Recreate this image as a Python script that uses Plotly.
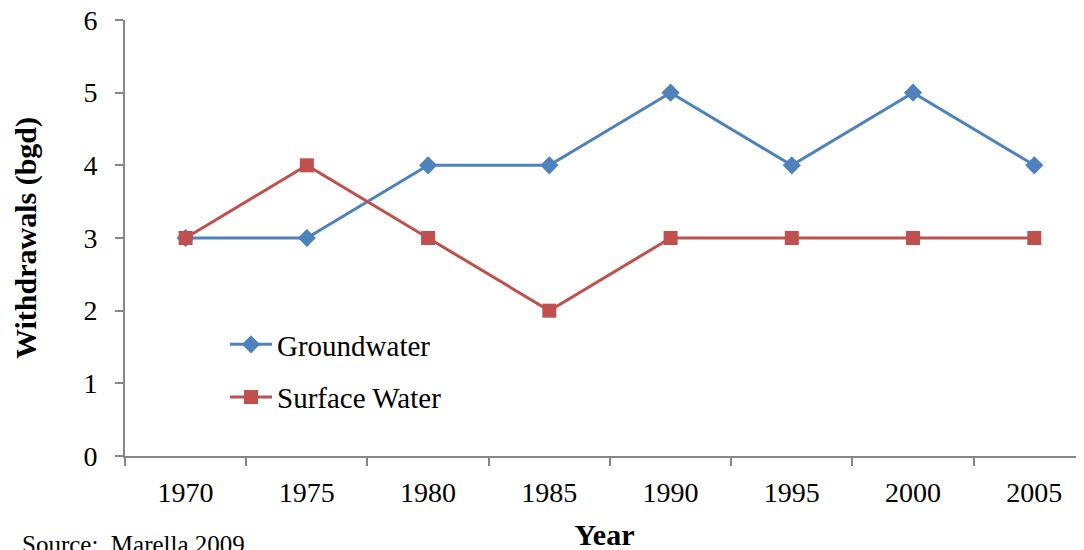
import plotly.graph_objects as go

years = ["1970", "1975", "1980", "1985", "1990", "1995", "2000", "2005"]
groundwater = [3, 3, 4, 4, 5, 4, 5, 4]
surface_water = [3, 4, 3, 2, 3, 3, 3, 3]

FONT = "Liberation Serif"
AXIS = "#868686"

fig = go.Figure()
fig.add_trace(go.Scatter(
    x=years, y=groundwater, name="Groundwater", mode="lines+markers",
    line=dict(color="#4F81BD", width=3),
    marker=dict(symbol="diamond", size=14, color="#4F81BD"),
    legendgroup="g",
))
fig.add_trace(go.Scatter(
    x=years, y=surface_water, name="Surface Water", mode="lines+markers",
    line=dict(color="#C0504D", width=3),
    marker=dict(symbol="square", size=14, color="#C0504D"),
    legendgroup="s",
))

fig.update_layout(
    width=1084, height=550,
    margin=dict(l=117, r=8, t=12, b=102, autoexpand=False),
    paper_bgcolor="white", plot_bgcolor="white",
    font=dict(family=FONT, size=28, color="black"),
    showlegend=True,
    legend=dict(x=(225 - 125) / 959, y=(456 - 371) / 436, xanchor="left", yanchor="middle",
                font=dict(family=FONT, size=29), bgcolor="rgba(0,0,0,0)",
                traceorder="grouped", tracegroupgap=12, itemwidth=42),
    xaxis=dict(
        type="category", range=[-0.5, 7.41],
        showline=True, linecolor=AXIS, linewidth=2,
        ticks="outside", tickson="boundaries", ticklen=8, tickcolor=AXIS, tickwidth=2,
        showgrid=False, zeroline=False,
        ticklabelstandoff=10, ticklabeloverflow="allow",
        tickfont=dict(family=FONT, size=28),
        title=dict(text="<b>Year</b>", font=dict(family=FONT, size=30), standoff=17),
    ),
    yaxis=dict(
        range=[0, 6], dtick=1,
        showline=True, linecolor=AXIS, linewidth=2,
        ticks="outside", ticklen=8, tickcolor=AXIS, tickwidth=2,
        showgrid=False, zeroline=False,
        ticklabelstandoff=12, ticklabeloverflow="allow",
        tickfont=dict(family=FONT, size=28),
        title=dict(text="<b>Withdrawals (bgd)</b>", font=dict(family=FONT, size=30), standoff=38),
    ),
)

fig.add_annotation(
    text="Source:  Marella 2009", xref="paper", yref="paper",
    x=(20 - 125) / 959, y=(456 - 529) / 436, xanchor="left", yanchor="top",
    showarrow=False, font=dict(family=FONT, size=25, color="black"),
)

fig.write_html("out.html")
